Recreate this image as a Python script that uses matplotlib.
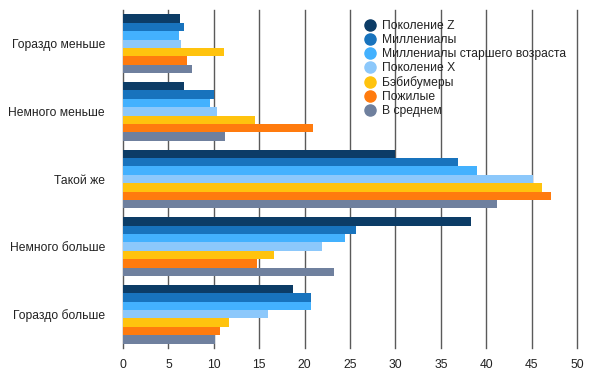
import matplotlib.pyplot as plt
import numpy as np
from matplotlib.lines import Line2D

categories = ['Гораздо меньше', 'Немного меньше', 'Такой же', 'Немного больше', 'Гораздо больше']
series = ['Поколение Z', 'Миллениалы', 'Миллениалы старшего возраста', 'Поколение X',
          'Бэбибумеры', 'Пожилые', 'В среднем']
gen_z = [6.3, 6.7, 30.0, 38.3, 18.7]
millennials = [6.7, 10.0, 36.9, 25.7, 20.7]
older_millennials = [6.2, 9.6, 39.0, 24.4, 20.7]
gen_x = [6.4, 10.3, 45.2, 21.9, 16.0]
boomers = [11.1, 14.5, 46.1, 16.6, 11.7]
seniors = [7.0, 20.9, 47.1, 14.8, 10.7]
average = [7.6, 11.2, 41.2, 23.2, 10.1]
values = [gen_z, millennials, older_millennials, gen_x, boomers, seniors, average]
colors = ['#0c3c66', '#1873bd', '#43b1fe', '#8cc8fb', '#ffc30e', '#ff7b0e', '#6f809e']
xticks = [0, 5, 10, 15, 20, 25, 30, 35, 40, 45, 50]

plt.rcParams['font.family'] = ['Liberation Sans', 'DejaVu Sans']

fig = plt.figure(figsize=(5.94, 3.84), dpi=100)
ax = fig.add_axes([123 / 594, 1 - 348 / 384, 454 / 594, 338 / 384])

n = len(series)
bar_h = 0.87 / n
y = np.arange(len(categories))
for i, (vals, c) in enumerate(zip(values, colors)):
    offs = -0.87 / 2 + bar_h * (i + 0.5)
    ax.barh(y + offs, vals, height=bar_h, color=c, zorder=3)

ax.set_ylim(len(categories) - 0.5, -0.5)
ax.set_xlim(0, 50)
for t in xticks:
    ax.axvline(t, color='#5a5a5a', lw=1, zorder=1, clip_on=False)

ax.set_xticks(xticks)
ax.set_yticks(y)
ax.set_yticklabels(categories)
ax.tick_params(axis='both', length=0, labelsize=8.7, colors='#222222')
ax.tick_params(axis='x', pad=8)
ax.tick_params(axis='y', pad=13)
for s in ax.spines.values():
    s.set_visible(False)

handles = [Line2D([], [], marker='o', ls='', color=c, markersize=8) for c in colors]
leg = fig.legend(handles, series, loc='upper left', bbox_to_anchor=(363 / 594, 1 - 20 / 384),
                 frameon=False, fontsize=8.7, handletextpad=0.4, labelspacing=0.17,
                 handlelength=1.2, borderaxespad=0, borderpad=0)
for t in leg.get_texts():
    t.set_color('#222222')

fig.savefig('out.png', dpi=100)
